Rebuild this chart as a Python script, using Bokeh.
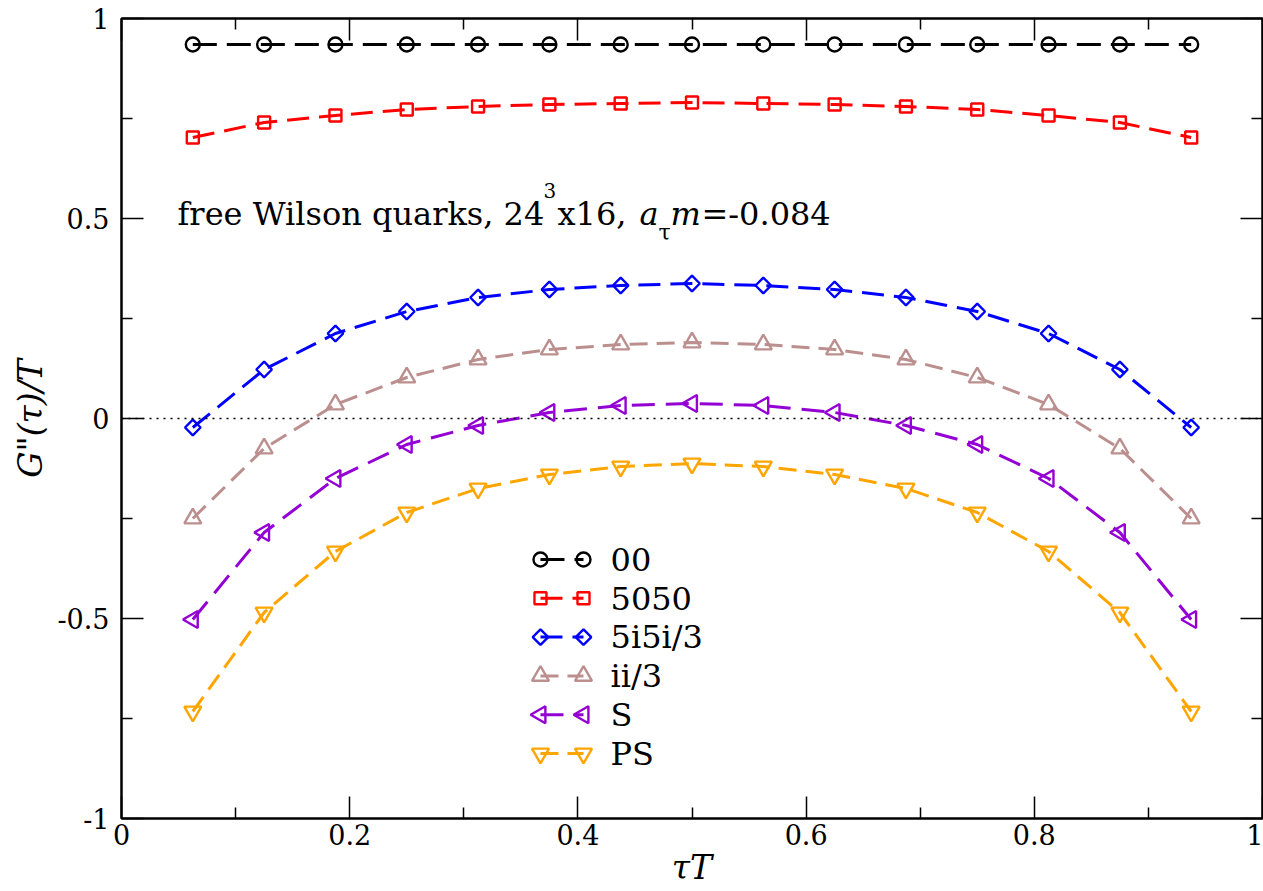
import numpy as np
from bokeh.plotting import figure
from bokeh.models import (FixedTicker, CustomJSTickFormatter, LinearAxis, Span,
                          Label, Range1d)
from bokeh.embed import file_html
from bokeh.resources import INLINE

# ---------------- data ----------------
tau_T = [0.0625, 0.125, 0.1875, 0.25, 0.3125, 0.375, 0.4375, 0.5,
         0.5625, 0.625, 0.6875, 0.75, 0.8125, 0.875, 0.9375]
g_00 = [0.935, 0.935, 0.935, 0.935, 0.935, 0.935, 0.935, 0.935,
        0.935, 0.935, 0.935, 0.935, 0.935, 0.935, 0.935]
g_5050 = [0.7025, 0.74, 0.7575, 0.7725, 0.78, 0.785, 0.7875, 0.79,
          0.7875, 0.785, 0.78, 0.7725, 0.7575, 0.74, 0.7025]
g_5i5i = [-0.0225, 0.1225, 0.2125, 0.2675, 0.3025, 0.3225, 0.3325, 0.3375,
          0.3325, 0.3225, 0.3025, 0.2675, 0.2125, 0.1225, -0.0225]
g_ii = [-0.25, -0.075, 0.035, 0.1025, 0.1475, 0.1725, 0.185, 0.19,
        0.185, 0.1725, 0.1475, 0.1025, 0.035, -0.075, -0.25]
g_S = [-0.5025, -0.285, -0.15, -0.065, -0.0175, 0.015, 0.0325, 0.0375,
       0.0325, 0.015, -0.0175, -0.065, -0.15, -0.285, -0.5025]
g_PS = [-0.7325, -0.485, -0.3325, -0.235, -0.175, -0.14, -0.12, -0.1125,
        -0.12, -0.14, -0.175, -0.235, -0.3325, -0.485, -0.7325]

series_names = ["00", "5050", "5i5i/3", "ii/3", "S", "PS"]
series_values = [g_00, g_5050, g_5i5i, g_ii, g_S, g_PS]

x_major = [0, 0.2, 0.4, 0.6, 0.8, 1.0]
x_minor = [0.1, 0.3, 0.5, 0.7, 0.9]
y_major = [-1, -0.5, 0, 0.5, 1]
y_minor = [-0.75, -0.25, 0.25, 0.75]

x_title = "τT"
y_title = "G\"(τ)/T"

# ---------------- styles / layout ----------------
colors = ["#000000", "#ff0000", "#0000ff", "#bc8f8f", "#9400d3", "#ffa500"]
markers = ["circle", "square", "square", "triangle", "triangle", "inverted_triangle"]
m_sizes = [14, 12, 11, 17, 17, 17]
m_angles = [0, 0, np.pi / 4, 0, np.pi / 2, 0]
dashes = ["24 10", "22 10", "22 10", "18 9", "23 11", "18 9"]

FONT = "DejaVu Serif"

# legend layout (frame-relative fractions): left marker, right marker, text,
# first row centre and row step
LEG_X0, LEG_X1, LEG_XT = 0.3672, 0.4049, 0.4286
LEG_Y0, LEG_DY = -0.3525, 0.097

p = figure(frame_width=1141, frame_height=800,
           min_border_left=121, min_border_right=1,
           min_border_top=18, min_border_bottom=73,
           x_range=Range1d(0, 1), y_range=Range1d(-1, 1),
           output_backend="svg", toolbar_location=None)
p.xaxis.visible = False
p.yaxis.visible = False
p.xgrid.visible = False
p.ygrid.visible = False
p.outline_line_color = "black"
p.outline_line_width = 2
p.background_fill_color = "white"
p.border_fill_color = "white"

fmt = CustomJSTickFormatter(code="return String(parseFloat(tick.toFixed(3)));")


def make_axis(ticks, minors, show_labels):
    ax = LinearAxis(ticker=FixedTicker(ticks=ticks, minor_ticks=minors),
                    formatter=fmt)
    ax.axis_line_width = 2
    ax.axis_line_color = "black"
    ax.major_tick_in = 22
    ax.major_tick_out = 0
    ax.minor_tick_in = 11
    ax.minor_tick_out = 0
    ax.major_tick_line_width = 1.5
    ax.minor_tick_line_width = 1.5
    ax.major_tick_line_color = "black"
    ax.minor_tick_line_color = "black"
    ax.major_label_text_font = FONT
    ax.axis_label_text_font = FONT
    ax.axis_label_text_color = "black"
    ax.axis_label_text_font_style = "italic"
    ax.axis_label_text_font_size = "33px"
    if show_labels:
        ax.major_label_text_color = "black"
        ax.major_label_text_font_size = "27px"
    else:
        ax.major_label_text_color = None
        ax.major_label_text_font_size = "1px"
        ax.major_label_standoff = 0
    return ax


xb = make_axis(x_major, x_minor, True)
xb.major_label_standoff = 5
xb.axis_label = x_title
xb.axis_label_standoff = 0
p.add_layout(xb, "below")
yl = make_axis(y_major, y_minor, True)
yl.major_label_standoff = 12
yl.axis_label = y_title
yl.axis_label_standoff = 4
p.add_layout(yl, "left")
p.add_layout(make_axis(x_major, x_minor, False), "above")
p.add_layout(make_axis(y_major, y_minor, False), "right")

# zero line
p.add_layout(Span(location=0, dimension="width", line_color="black",
                  line_width=1.5, line_dash="2 5"))

for i, (name, vals, c, mk, ms, ang, dsh) in enumerate(
        zip(series_names, series_values, colors, markers, m_sizes, m_angles, dashes)):
    # data
    p.line(tau_T, vals, line_color=c, line_width=3, line_dash=dsh)
    p.scatter(tau_T, vals, marker=mk, size=ms, angle=ang,
              line_color=c, line_width=2.4, fill_alpha=0)
    # legend entry: symbol - line - symbol, then label
    ly = LEG_Y0 - i * LEG_DY
    p.line([LEG_X0, LEG_X1], [ly, ly], line_color=c, line_width=3, line_dash=dsh)
    p.scatter([LEG_X0, LEG_X1], [ly, ly], marker=mk, size=ms, angle=ang,
              line_color=c, line_width=2.4, fill_alpha=0)
    p.add_layout(Label(x=LEG_XT, y=ly, text=name, text_font=FONT,
                       text_font_size="32px", text_color="black",
                       text_align="left", text_baseline="middle"))


def lab(x, y, text, size, style="normal"):
    p.add_layout(Label(x=x, y=y, text=text, text_font=FONT,
                       text_font_size=size, text_font_style=style,
                       text_color="black",
                       text_align="left", text_baseline="alphabetic"))


# annotation (pieces placed one after another)
lab(0.0491, 0.5125, "free Wilson quarks, 24", "32px")
lab(0.3699, 0.57, "3", "20px")
lab(0.3821, 0.5125, "x16, ", "32px")
lab(0.4540, 0.5125, "a", "32px", "italic")
lab(0.4706, 0.465, "τ", "22px")
lab(0.4812, 0.5125, "m", "32px", "italic")
lab(0.5083, 0.5125, "=-0.084", "32px")

open("out.html", "w").write(file_html(p, INLINE))
